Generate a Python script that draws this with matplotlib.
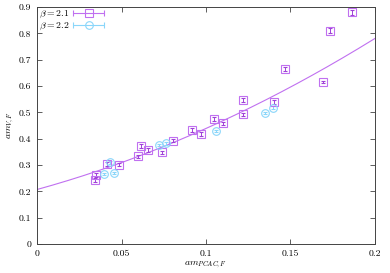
import numpy as np
import matplotlib
matplotlib.use('Agg')
import matplotlib.pyplot as plt
from matplotlib.legend_handler import HandlerErrorbar

# beta = 2.1 data
x21 = [0.0347, 0.0343, 0.0417, 0.0488, 0.0599, 0.0615, 0.0658, 0.0740, 0.0803, 0.0917,
       0.0969, 0.1047, 0.1102, 0.1217, 0.1221, 0.1405, 0.1467, 0.1694, 0.1734, 0.1862]
y21 = [0.262, 0.243, 0.304, 0.302, 0.334, 0.372, 0.357, 0.348, 0.393, 0.433,
       0.417, 0.476, 0.458, 0.493, 0.547, 0.540, 0.665, 0.616, 0.810, 0.880]
e21 = [0.007, 0.006, 0.006, 0.006, 0.006, 0.007, 0.006, 0.007, 0.006, 0.007,
       0.007, 0.007, 0.007, 0.006, 0.007, 0.007, 0.008, 0.005, 0.010, 0.010]

# beta = 2.2 data
x22 = [0.0396, 0.0456, 0.0432, 0.0722, 0.0762, 0.1059, 0.1349, 0.1395]
y22 = [0.265, 0.270, 0.310, 0.376, 0.382, 0.429, 0.498, 0.518]
e22 = [0.004, 0.004, 0.005, 0.005, 0.005, 0.005, 0.004, 0.005]

# quadratic fit
fit_coef = [0.207, 1.77, 5.5]

purple = '#c070f0'
cyan = '#8ad6fa'

def main():
    plt.rcParams['font.family'] = 'serif'
    plt.rcParams['font.serif'] = ['cmr10']
    plt.rcParams['mathtext.fontset'] = 'cm'
    plt.rcParams['axes.formatter.use_mathtext'] = True

    fig = plt.figure(figsize=(3.9, 2.73), dpi=100)
    ax = fig.add_axes([0.0949, 0.1062, 0.8666, 0.8678])

    xf = np.linspace(0, 0.2, 200)
    yf = fit_coef[0] + fit_coef[1] * xf + fit_coef[2] * xf ** 2
    ax.plot(xf, yf, color=purple, lw=0.8)

    ax.errorbar(x21, y21, yerr=e21, fmt='s', ms=6, mfc='none', mec=purple, mew=0.8,
                ecolor='#a040d8', elinewidth=0.7, capsize=1.2, capthick=0.7)
    ax.errorbar(x22, y22, yerr=e22, fmt='o', ms=5.5, mfc='none', mec=cyan, mew=0.8,
                ecolor=cyan, elinewidth=0.7, capsize=1.2, capthick=0.7)

    # legend proxies with horizontal bars like gnuplot
    h1 = ax.errorbar([np.nan], [np.nan], xerr=[1], fmt='s', ms=6, mfc='none', mec=purple,
                     mew=0.8, ecolor=purple, elinewidth=0.8, capsize=2, capthick=0.8,
                     label=r'$\beta = 2.1$')
    h2 = ax.errorbar([np.nan], [np.nan], xerr=[1], fmt='o', ms=5.5, mfc='none', mec=cyan,
                     mew=0.8, ecolor=cyan, elinewidth=0.8, capsize=2, capthick=0.8,
                     label=r'$\beta = 2.2$')
    ax.legend(handles=[h1, h2], loc='upper left', frameon=False, markerfirst=False,
              fontsize=7, handlelength=3.2, handletextpad=0.4, labelspacing=0.05,
              borderaxespad=0.1, borderpad=0.1,
              handler_map={h1: HandlerErrorbar(xerr_size=1.6),
                           h2: HandlerErrorbar(xerr_size=1.6)})

    ax.set_xlim(0, 0.2)
    ax.set_ylim(0, 0.9)
    ax.set_xticks([0, 0.05, 0.1, 0.15, 0.2])
    ax.set_xticklabels(['0', '0.05', '0.1', '0.15', '0.2'])
    ax.set_yticks([0, 0.1, 0.2, 0.3, 0.4, 0.5, 0.6, 0.7, 0.8, 0.9])
    ax.set_yticklabels(['0', '0.1', '0.2', '0.3', '0.4', '0.5', '0.6', '0.7', '0.8', '0.9'])
    ax.tick_params(direction='in', top=True, right=True, length=3.5, width=0.6,
                   labelsize=7, pad=4, color='#444444')
    for s in ax.spines.values():
        s.set_linewidth(0.7)
        s.set_color('#444444')

    ax.set_xlabel(r'$am_{PCAC,F}$', fontsize=7, labelpad=1)
    ax.set_ylabel(r'$am_{V,F}$', fontsize=7, labelpad=2)

    fig.savefig('out.png', dpi=100)

if __name__ == '__main__':
    main()
